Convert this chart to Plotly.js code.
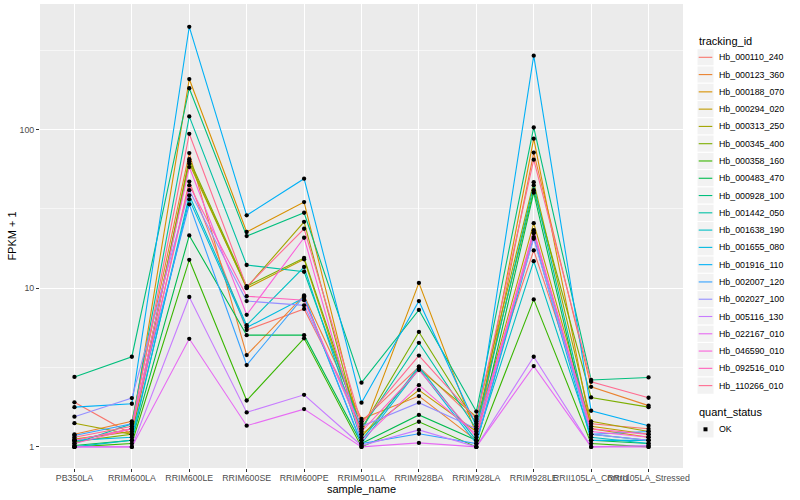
<!DOCTYPE html>
<html><head><meta charset="utf-8">
<script src="https://cdn.plot.ly/plotly-3.0.1.min.js"></script>
<style>html,body{margin:0;padding:0;background:#fff}#chart{width:800px;height:500px}</style>
</head><body><div id="chart"></div>
<script>
// ---- data ----
const samples = ["PB350LA","RRIM600LA","RRIM600LE","RRIM600SE","RRIM600PE","RRIM901LA","RRIM928BA","RRIM928LA","RRIM928LE","RRII105LA_Control","RRII105LA_Stressed"];
const trackingIds = ["Hb_000110_240","Hb_000123_360","Hb_000188_070","Hb_000294_020","Hb_000313_250","Hb_000345_400","Hb_000358_160","Hb_000483_470","Hb_000928_100","Hb_001442_050","Hb_001638_190","Hb_001655_080","Hb_001916_110","Hb_002007_120","Hb_002027_100","Hb_005116_130","Hb_022167_010","Hb_046590_010","Hb_092516_010","Hb_110266_010"];
const seriesColors = ["#F8766D","#EA8331","#D89000","#C09B00","#A3A500","#7CAE00","#39B600","#00BB4E","#00BF7D","#00C1A3","#00BFC4","#00BAE0","#00B0F6","#35A2FF","#9590FF","#C77CFF","#E76BF3","#FA62DB","#FF62BC","#FF6C91"];
const yTickVals = [1, 10, 100];
const yTickText = ["1", "10", "100"];
const quantStatus = ["OK"];

const Hb_000110_240 = [1.91, 1.20, 47, 5.45, 7.4, 1.45, 3.20, 1.45, 17.3, 1.40, 1.30];
const Hb_000123_360 = [1.20, 1.45, 71, 3.79, 9.0, 1.50, 2.09, 1.10, 71.6, 2.39, 1.82];
const Hb_000188_070 = [1.10, 1.30, 208, 22.6, 34.9, 1.20, 10.8, 1.20, 87.5, 1.30, 1.15];
const Hb_000294_020 = [1.12, 1.25, 63, 10.0, 15.2, 1.20, 2.28, 1.25, 25.7, 1.35, 1.20];
const Hb_000313_250 = [1.41, 1.20, 61, 10.1, 26.2, 1.15, 3.10, 1.55, 46.6, 1.45, 1.25];
const Hb_000345_400 = [1.08, 1.20, 65, 10.3, 15.5, 1.30, 5.30, 1.40, 41.5, 2.05, 1.78];
const Hb_000358_160 = [1.00, 1.05, 15.1, 1.96, 4.83, 1.00, 1.44, 1.00, 8.5, 1.05, 1.00];
const Hb_000483_470 = [1.02, 1.10, 21.5, 5.06, 5.06, 1.05, 1.59, 1.10, 40, 1.10, 1.05];
const Hb_000928_100 = [2.76, 3.70, 182, 21.3, 29.9, 2.54, 7.30, 1.67, 103, 2.64, 2.74];
const Hb_001442_050 = [1.05, 1.40, 121, 14.0, 12.7, 1.30, 4.53, 1.30, 44.5, 1.20, 1.10];
const Hb_001638_190 = [1.00, 1.10, 38.5, 5.85, 13.6, 1.10, 3.20, 1.10, 14.8, 1.15, 1.05];
const Hb_001655_080 = [1.10, 1.15, 36.3, 5.65, 8.7, 1.05, 3.10, 1.05, 21, 1.10, 1.10];
const Hb_001916_110 = [1.78, 1.87, 444, 28.8, 49, 1.90, 8.30, 1.35, 292, 1.69, 1.36];
const Hb_002007_120 = [1.18, 1.40, 33.8, 3.28, 8.9, 1.05, 1.21, 1.05, 22.5, 1.20, 1.25];
const Hb_002027_100 = [1.55, 2.03, 41.5, 8.3, 7.8, 1.35, 1.90, 1.30, 20.5, 1.20, 1.10];
const Hb_005116_130 = [1.00, 1.00, 8.8, 1.65, 2.13, 1.02, 1.28, 1.00, 3.7, 1.00, 1.02];
const Hb_022167_010 = [1.00, 1.00, 4.8, 1.36, 1.73, 1.00, 1.06, 1.00, 3.23, 1.00, 1.00];
const Hb_046590_010 = [1.10, 1.30, 58, 6.8, 20.8, 1.10, 2.45, 1.20, 23.2, 1.25, 1.15];
const Hb_092516_010 = [1.05, 1.30, 44.5, 8.9, 8.4, 1.25, 3.05, 1.15, 22.2, 1.30, 1.20];
const Hb_110266_010 = [1.15, 1.35, 94, 10.2, 23.7, 1.40, 3.76, 1.50, 64.6, 2.57, 2.04];

const seriesValues = [Hb_000110_240, Hb_000123_360, Hb_000188_070, Hb_000294_020, Hb_000313_250, Hb_000345_400, Hb_000358_160, Hb_000483_470, Hb_000928_100, Hb_001442_050, Hb_001638_190, Hb_001655_080, Hb_001916_110, Hb_002007_120, Hb_002027_100, Hb_005116_130, Hb_022167_010, Hb_046590_010, Hb_092516_010, Hb_110266_010];

// ---- traces ----
const FONT = "Liberation Sans, Arial, sans-serif";
const traces = [];
seriesValues.forEach((vals, i) => {
  traces.push({
    type: "scatter", mode: "lines", name: trackingIds[i],
    x: samples, y: vals,
    line: {color: seriesColors[i], width: 1.1},
    showlegend: false, hoverinfo: "x+y+name"
  });
});
const px = [], py = [];
seriesValues.forEach(vals => vals.forEach((v, j) => { px.push(samples[j]); py.push(v); }));
traces.push({
  type: "scatter", mode: "markers", name: quantStatus[0],
  x: px, y: py, marker: {color: "#000", size: 4.3, symbol: "circle"},
  showlegend: false, hoverinfo: "x+y"
});

// ---- manual ggplot-style legend ----
const L = 40, R = 683, T = 4, B = 468;
const toX = p => (p - L) / (R - L);
const toY = p => (B - p) / (B - T);
const shapes = [], annotations = [];
const keyX0 = 697, keyX1 = 714, keyH = 17.28, firstCy = 57.3;
annotations.push({xref:"paper", yref:"paper", x: toX(keyX0), y: toY(40.7), text: "tracking_id",
  showarrow:false, xanchor:"left", yanchor:"middle", font:{family:FONT, size:11, color:"#000"}});
trackingIds.forEach((id, i) => {
  const cy = firstCy + i * keyH;
  shapes.push({type:"rect", xref:"paper", yref:"paper", x0: toX(keyX0), x1: toX(keyX1),
    y0: toY(cy - keyH/2), y1: toY(cy + keyH/2), fillcolor:"#F2F2F2", line:{color:"#FFFFFF", width:1}, layer:"above"});
  shapes.push({type:"line", xref:"paper", yref:"paper", x0: toX(keyX0 + 1.7), x1: toX(keyX1 - 1.7),
    y0: toY(cy), y1: toY(cy), line:{color: seriesColors[i], width:1.1}, layer:"above"});
  annotations.push({xref:"paper", yref:"paper", x: toX(717), y: toY(cy), text: id,
    showarrow:false, xanchor:"left", yanchor:"middle", font:{family:FONT, size:8.8, color:"#000"}});
});
annotations.push({xref:"paper", yref:"paper", x: toX(keyX0), y: toY(412.3), text: "quant_status",
  showarrow:false, xanchor:"left", yanchor:"middle", font:{family:FONT, size:11, color:"#000"}});
const okCy = 429.3;
shapes.push({type:"rect", xref:"paper", yref:"paper", x0: toX(keyX0), x1: toX(keyX1),
  y0: toY(okCy - keyH/2), y1: toY(okCy + keyH/2), fillcolor:"#F2F2F2", line:{color:"#FFFFFF", width:1}, layer:"above"});
shapes.push({type:"rect", xref:"paper", yref:"paper", x0: toX(703.5), x1: toX(707.5),
  y0: toY(okCy - 2), y1: toY(okCy + 2), fillcolor:"#000", line:{width:0}, layer:"above"});
annotations.push({xref:"paper", yref:"paper", x: toX(717), y: toY(okCy), text: quantStatus[0],
  showarrow:false, xanchor:"left", yanchor:"middle", font:{family:FONT, size:8.8, color:"#000"}});

const layout = {
  width: 800, height: 500,
  margin: {l: L, r: 800 - R, t: T, b: 500 - B, pad: 0},
  paper_bgcolor: "#FFFFFF", plot_bgcolor: "#EBEBEB",
  font: {family: FONT, color: "#000"},
  showlegend: false,
  xaxis: {
    type: "category", categoryorder: "array", categoryarray: samples,
    range: [-0.6, 10.6], tickangle: 0,
    showgrid: true, gridcolor: "#FFFFFF", gridwidth: 1.07, zeroline: false, showline: false,
    ticks: "outside", ticklen: 3, tickwidth: 1, tickcolor: "#333333",
    tickfont: {family: FONT, size: 8.8, color: "#4D4D4D"},
    ticklabelstandoff: -2,
    title: {text: "sample_name", font: {family: FONT, size: 11, color: "#000"}, standoff: 1},
    automargin: false, fixedrange: true
  },
  yaxis: {
    type: "log", range: [-0.133, 2.791],
    tickmode: "array", tickvals: yTickVals, ticktext: yTickText,
    showgrid: true, gridcolor: "#FFFFFF", gridwidth: 1.07, zeroline: false, showline: false,
    ticks: "outside", ticklen: 3, tickwidth: 1, tickcolor: "#333333",
    tickfont: {family: FONT, size: 8.8, color: "#4D4D4D"},
    minor: {tickmode: "array", tickvals: [3.1623, 31.623, 316.23], showgrid: true, gridcolor: "#FFFFFF", gridwidth: 0.53, ticks: ""},
    title: {text: "FPKM + 1", font: {family: FONT, size: 11, color: "#000"}, standoff: 0},
    automargin: false, fixedrange: true
  },
  shapes: shapes,
  annotations: annotations
};

Plotly.newPlot("chart", traces, layout, {displayModeBar: false, staticPlot: true});
</script>
</body></html>
